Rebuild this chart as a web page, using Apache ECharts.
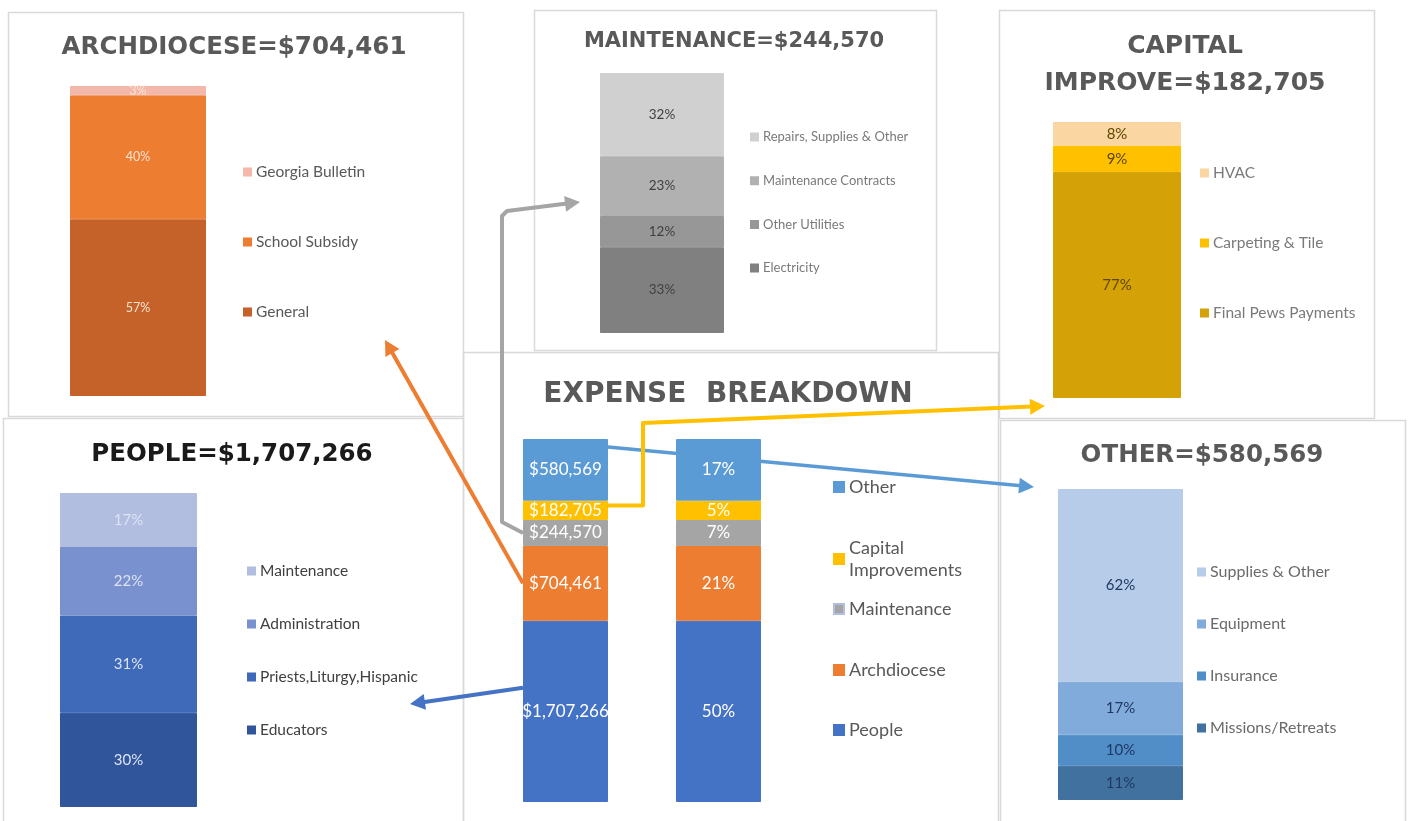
<!DOCTYPE html>
<html>
<head>
<meta charset="utf-8">
<script src="https://cdn.jsdelivr.net/npm/echarts@6/dist/echarts.min.js"></script>
<style>
  html, body { margin: 0; padding: 0; background: #fff; }
  #main { width: 1408px; height: 821px; }
</style>
</head>
<body>
<div id="main"></div>
<script>
// sub-panel breakdowns, bottom segment first (percent of each group)
const archNames = ['General', 'School Subsidy', 'Georgia Bulletin'];
const archPct = [57, 40, 3];
const maintNames = ['Electricity', 'Other Utilities', 'Maintenance Contracts', 'Repairs, Supplies & Other'];
const maintPct = [33, 12, 23, 32];
const capNames = ['Final Pews Payments', 'Carpeting & Tile', 'HVAC'];
const capPct = [77, 9, 8];
const peopleNames = ['Educators', 'Priests,Liturgy,Hispanic', 'Administration', 'Maintenance'];
const peoplePct = [30, 31, 22, 17];
const otherNames = ['Missions/Retreats', 'Insurance', 'Equipment', 'Supplies & Other'];
const otherPct = [11, 10, 17, 62];

// main expense breakdown (dollars)
const expNames = ['People', 'Archdiocese', 'Maintenance', 'Capital Improvements', 'Other'];
const expAmounts = [1707266, 704461, 244570, 182705, 580569];
const expCols = ['Amount', 'Share'];

const total = expAmounts.reduce((a, b) => a + b, 0);

// colours
const archColors = ['#C4622A', '#ED7D31', '#F4B8AA'];
const maintColors = ['#808080', '#979797', '#B1B1B1', '#D0D0D0'];
const capColors = ['#D4A106', '#FFC000', '#FAD7A2'];
const peopleColors = ['#30559A', '#3F69B9', '#7A91CF', '#B2BEE0'];
const otherColors = ['#41719F', '#518DC7', '#81ABDA', '#B6CCE8'];
const expColors = ['#4472C4', '#ED7D31', '#A5A5A5', '#FFC000', '#5B9BD5'];

const chart = echarts.init(document.getElementById('main'));

// grid boxes: arch, maint, capital, people, other, center
const grids = [
    {left: 70, top: 86, width: 136, height: 310},
    {left: 600, top: 73, width: 124, height: 260},
    {left: 1053, top: 122, width: 128, height: 276},
    {left: 60, top: 493, width: 137, height: 314},
    {left: 1058, top: 489, width: 125, height: 311},
    {left: 489, top: 439, width: 306, height: 363}
];

function panelSeries(names, values, colors, idx, labelColor, fontSize) {
    return names.map((n, i) => ({
        name: n,
        type: 'bar',
        stack: 'p' + idx,
        xAxisIndex: idx,
        yAxisIndex: idx,
        barWidth: '100%',
        data: [values[i]],
        itemStyle: {color: colors[i], borderColor: colors[i], borderWidth: 1},
        label: {
            show: true,
            position: 'inside',
            formatter: p => p.value + '%',
            color: labelColor,
            fontSize: fontSize,
            fontFamily: 'Lato'
        }
    }));
}

function panelLegend(names, colors, left, top, gap, fontSize, lh, textColor) {
    return {
        left: left,
        top: top,
        orient: 'vertical',
        padding: 0,
        itemGap: gap,
        itemWidth: 7,
        itemHeight: 7,
        itemTextGap: 4,
        icon: 'rect',
        selectedMode: false,
        data: names.map((n, i) => ({name: n, itemStyle: {color: colors[i]}})).reverse(),
        textStyle: {fontFamily: 'Lato', fontSize: fontSize, lineHeight: lh, color: textColor}
    };
}

function panelTitle(text, x, top, size, color, lh) {
    return {
        text: text,
        left: x,
        top: top,
        textAlign: 'center',
        padding: 0,
        textStyle: {
            fontFamily: 'DejaVu Sans',
            fontWeight: 'bold',
            fontSize: size,
            lineHeight: lh || size,
            color: color
        }
    };
}

const centerSeries = expNames.map((n, i) => ({
    name: n,
    type: 'bar',
    stack: 'main',
    xAxisIndex: 5,
    yAxisIndex: 5,
    barWidth: 85,
    data: [expAmounts[i], expAmounts[i]],
    itemStyle: {color: expColors[i], borderColor: expColors[i], borderWidth: 1},
    label: {
        show: true,
        position: 'inside',
        color: '#ffffff',
        fontSize: 17,
        fontFamily: 'Lato',
        formatter: p => p.dataIndex === 0
            ? '$' + p.value.toLocaleString('en-US')
            : Math.round(p.value / total * 100) + '%'
    }
}));

// center legend: one entry per component so spacing can follow the original
const centerLegendTops = [719, 659, 598, 537, 476];
const centerLegends = expNames.map((n, i) => ({
    left: 833,
    top: centerLegendTops[i],
    padding: 0,
    itemWidth: 10,
    itemHeight: 10,
    itemTextGap: 4,
    icon: 'rect',
    selectedMode: false,
    data: [{name: n, itemStyle: {color: expColors[i]}}],
    formatter: name => name === 'Capital Improvements' ? 'Capital\nImprovements' : name,
    textStyle: {fontFamily: 'Lato', fontSize: 18, lineHeight: 22, color: '#595959'}
}));

const option = {
    backgroundColor: '#ffffff',
    animation: false,
    title: [
        panelTitle('ARCHDIOCESE=$704,461', 234, 35, 24.5, '#595959'),
        panelTitle('MAINTENANCE=$244,570', 734, 31, 21, '#595959'),
        panelTitle('CAPITAL\nIMPROVE=$182,705', 1185, 28, 25, '#595959', 37),
        panelTitle('PEOPLE=$1,707,266', 232, 442, 24.5, '#1a1a1a'),
        panelTitle('OTHER=$580,569', 1202, 443, 24.5, '#595959'),
        panelTitle('EXPENSE  BREAKDOWN', 728, 381, 28, '#595959')
    ],
    grid: grids,
    xAxis: grids.map((g, i) => ({
        type: 'category',
        gridIndex: i,
        data: i === 5 ? expCols : ['x'],
        show: false
    })),
    yAxis: grids.map((g, i) => ({
        type: 'value',
        gridIndex: i,
        min: 0,
        max: 'dataMax',
        show: false
    })),
    legend: [
        panelLegend(archNames, archColors, 243, 163, 52, 15.5, 18, '#595959'),
        panelLegend(maintNames, maintColors, 750, 129, 27.7, 13, 16, '#7a7a7a'),
        panelLegend(capNames, capColors, 1200, 164, 52, 15.5, 18, '#7a7a7a'),
        panelLegend(peopleNames, peopleColors, 247, 562, 35, 15.5, 18, '#404040'),
        panelLegend(otherNames, otherColors, 1197, 563, 34, 16, 18, '#6a6a6a')
    ].concat(centerLegends),
    series: [].concat(
        panelSeries(archNames, archPct, archColors, 0, '#FBE3D3', 12.5),
        panelSeries(maintNames, maintPct, maintColors, 1, '#404040', 13.5),
        panelSeries(capNames, capPct, capColors, 2, '#5C4700', 15),
        panelSeries(peopleNames, peoplePct, peopleColors, 3, '#DCE3F3', 15),
        panelSeries(otherNames, otherPct, otherColors, 4, '#203864', 15),
        centerSeries
    )
};

chart.setOption(option);

// connector arrows start at the segments of the first main bar
function px(value) {
    return chart.convertToPixel({xAxisIndex: 5, yAxisIndex: 5}, [0, value]);
}
const cum = [];
expAmounts.reduce((acc, v, i) => { cum[i] = acc; return acc + v; }, 0);
const barHalf = 42.5;

function arrow(id, pts, color, width) {
    const n = pts.length;
    const tip = pts[n - 1], prev = pts[n - 2];
    const dx = tip[0] - prev[0], dy = tip[1] - prev[1];
    const L = Math.hypot(dx, dy);
    const ux = dx / L, uy = dy / L;
    const hl = 15, hw = 8;
    const base = [tip[0] - ux * hl, tip[1] - uy * hl];
    const linePts = pts.slice(0, n - 1).concat([[tip[0] - ux * (hl - 2), tip[1] - uy * (hl - 2)]]);
    return [
        {
            type: 'polyline', id: id + 'L', z: 1,
            shape: {points: linePts},
            style: {stroke: color, lineWidth: width, fill: null, lineJoin: 'round'}
        },
        {
            type: 'polygon', id: id + 'H', z: 1,
            shape: {points: [tip, [base[0] - uy * hw, base[1] + ux * hw], [base[0] + uy * hw, base[1] - ux * hw]]},
            style: {fill: color}
        }
    ];
}

const pPeople = px(cum[0] + expAmounts[0] * 0.63);
const pArch = px(cum[1] + expAmounts[1] / 2);
const pMaint = px(cum[2] + expAmounts[2] / 2);
const pCap = px(cum[3] + expAmounts[3] * 0.75);
const pOther = px(cum[4] + expAmounts[4] * 0.87);
const leftX = pArch[0] - barHalf;
const rightX = pArch[0] + barHalf;

const panels = [
    [8, 12, 455, 404],
    [534, 10, 402, 340],
    [999, 10, 375, 408],
    [3, 418, 460, 420],
    [1000, 420, 405, 420],
    [463, 352, 535, 480]
];

const elements = panels.map((r, i) => ({
    type: 'rect', id: 'panel' + i, z: 0,
    shape: {x: r[0] + 0.5, y: r[1] + 0.5, width: r[2], height: r[3]},
    style: {fill: 'none', stroke: '#D9D9D9', lineWidth: 1.5}
})).concat(
    arrow('orange', [[leftX, pArch[1]], [385, 340]], '#ED7D31', 4),
    arrow('gray', [[leftX, pMaint[1]], [502, pMaint[1] - 11], [502, 216], [507, 211], [580, 202]], '#A5A5A5', 4),
    arrow('blueL', [[leftX, pPeople[1]], [410, 704]], '#4472C4', 4),
    arrow('blueR', [[rightX, pOther[1]], [1034, 487]], '#5B9BD5', 3.5),
    arrow('yellow', [[rightX, pCap[1]], [643, pCap[1]], [643, 423], [1045, 406]], '#FFC000', 4)
);

chart.setOption({graphic: {elements: elements}});
</script>
</body>
</html>
